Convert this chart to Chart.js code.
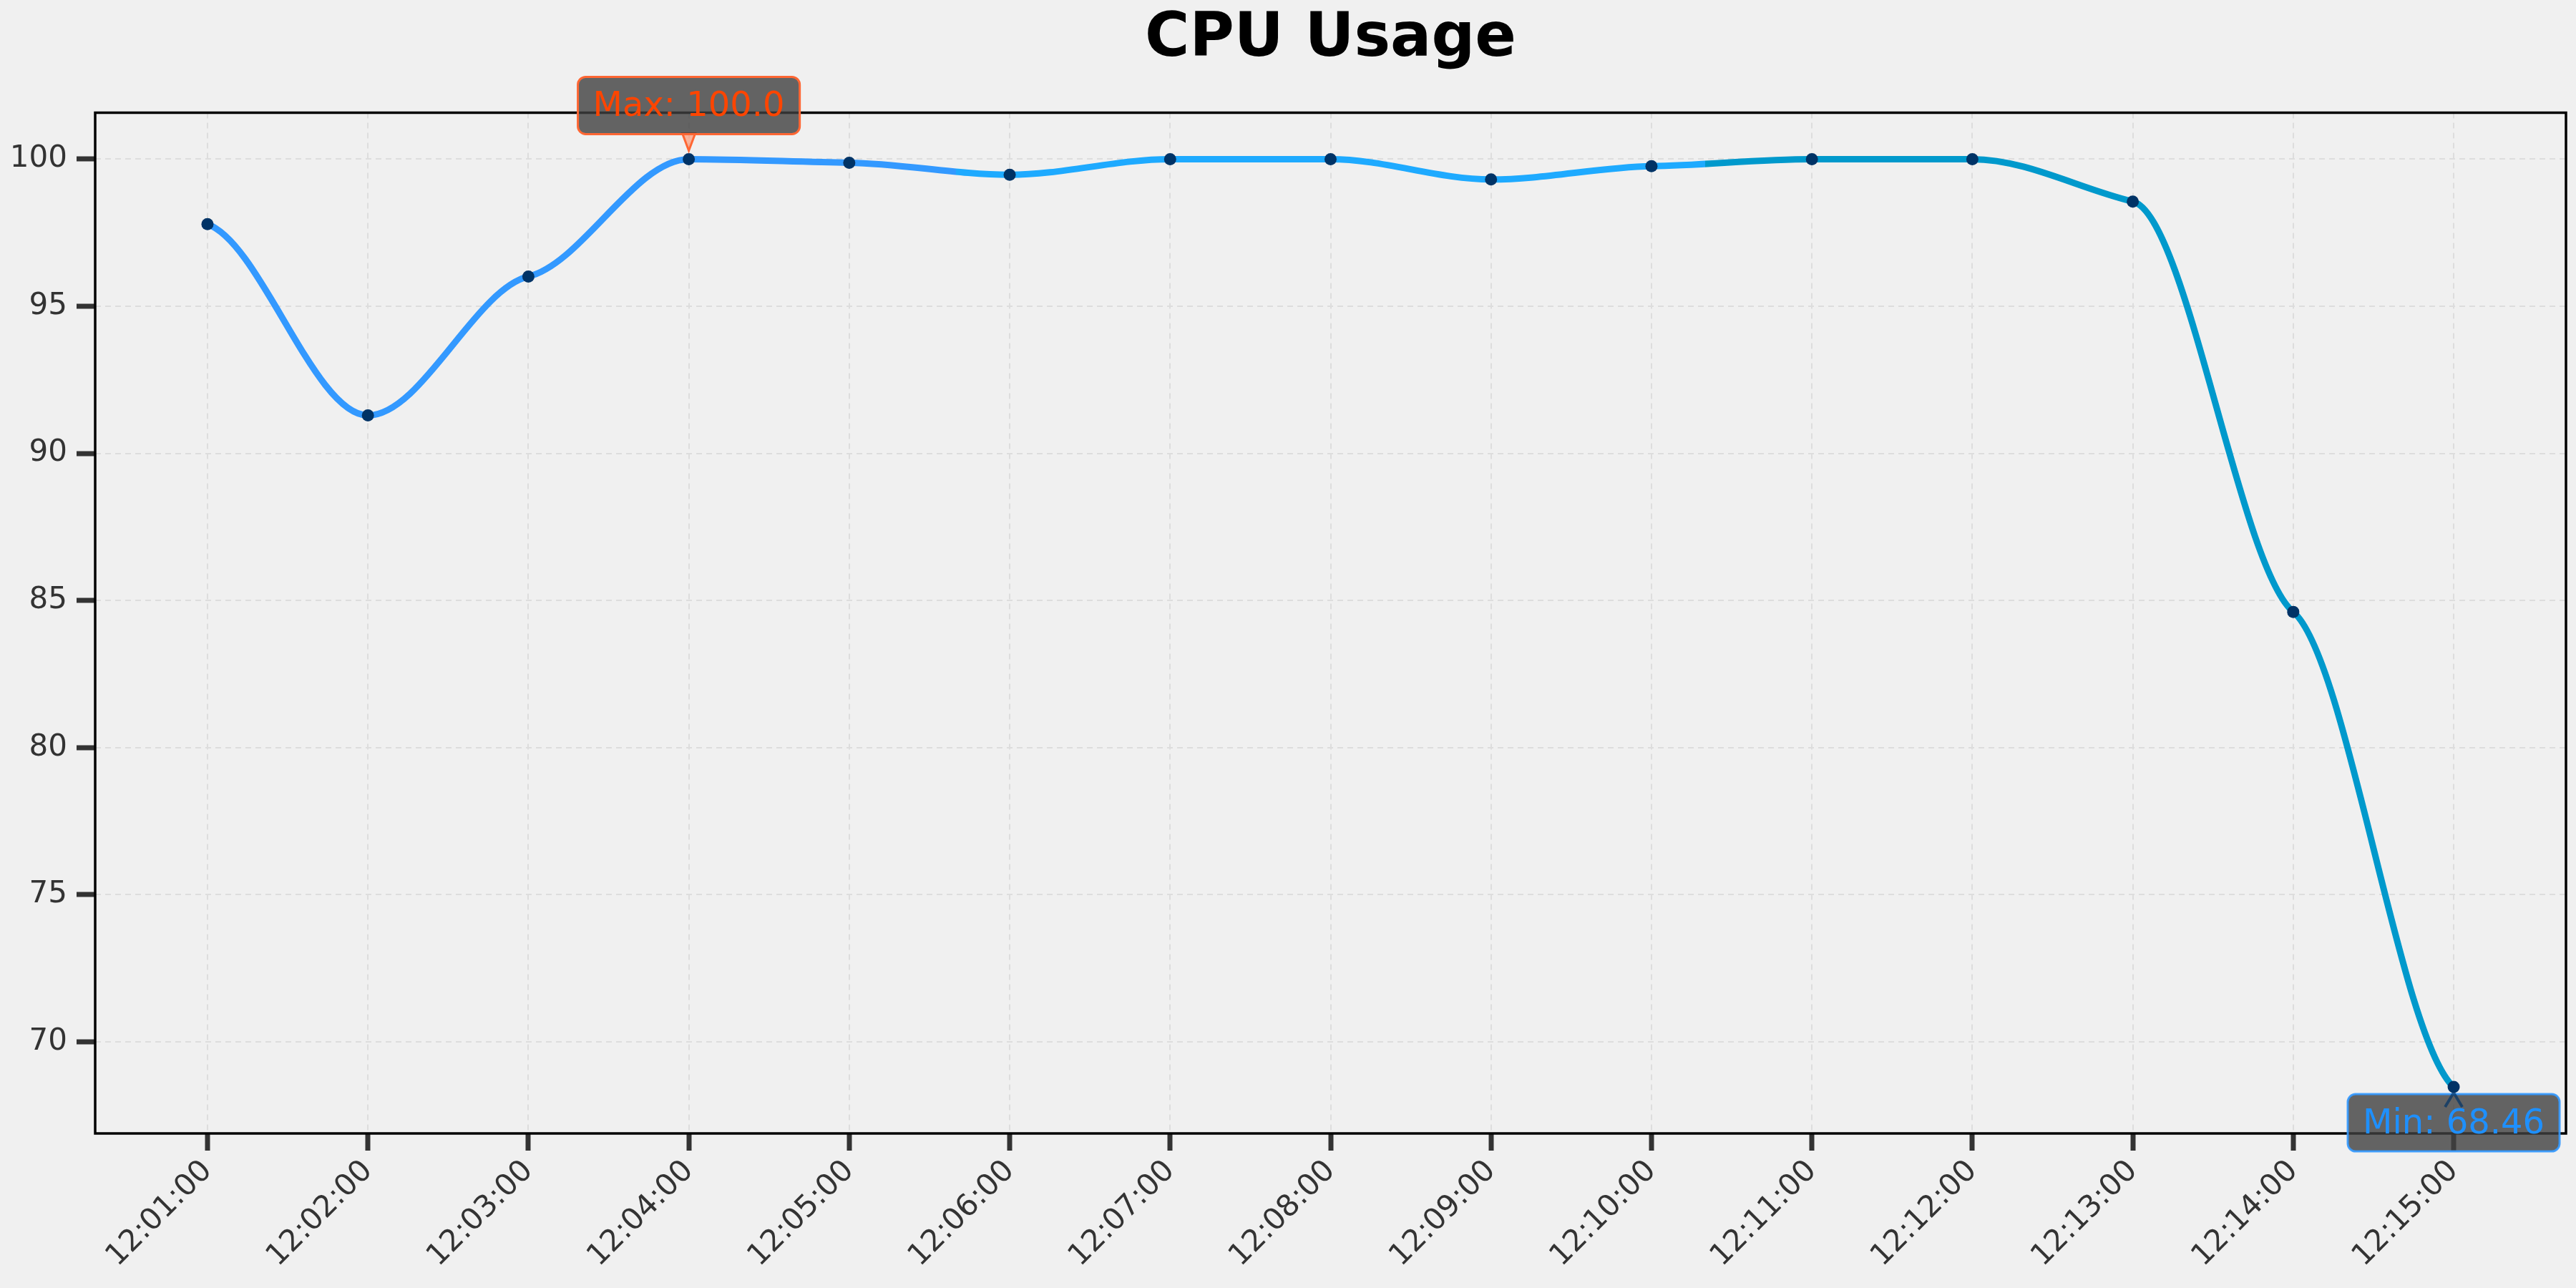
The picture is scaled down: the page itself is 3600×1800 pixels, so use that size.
<!DOCTYPE html>
<html>
<head>
<meta charset="utf-8">
<title>CPU Usage</title>
<script src="https://cdn.jsdelivr.net/npm/chart.js@4.4.1/dist/chart.umd.min.js"></script>
<style>
  body { margin: 0; background: #f0f0f0; }
  #cpuChart { display: block; }
</style>
</head>
<body>
<canvas id="cpuChart" width="3600" height="1800"></canvas>
<script>
const timeLabels = ['12:01:00','12:02:00','12:03:00','12:04:00','12:05:00','12:06:00','12:07:00',
    '12:08:00','12:09:00','12:10:00','12:11:00','12:12:00','12:13:00','12:14:00','12:15:00'];
const cpuValues = [97.79, 91.29, 96.01, 100.0, 99.88, 99.47, 100.0, 100.0, 99.31, 99.76, 100.0, 100.0, 98.56, 84.61, 68.46];
const yTicks = [70, 75, 80, 85, 90, 95, 100];
const lineColors = ['#3399ff', '#1eaaff', '#0099cc'];

const FONT = "'DejaVu Sans', sans-serif";
// how much of the monotone tangent is kept at each point (smaller = flatter at the points)
const TANGENT_KEEP = 0.3;

function lineGradient(context) {
    const chart = context.chart;
    const x = chart.scales.x;
    if (!chart.chartArea || !x) return lineColors[0];
    const x0 = x.getPixelForValue(0);
    const x1 = x.getPixelForValue(cpuValues.length - 1);
    const g = chart.ctx.createLinearGradient(x0, 0, x1, 0);
    g.addColorStop(0, lineColors[0]);
    g.addColorStop(1 / 3, lineColors[0]);
    g.addColorStop(1 / 3, lineColors[1]);
    g.addColorStop(2 / 3, lineColors[1]);
    g.addColorStop(2 / 3, lineColors[2]);
    g.addColorStop(1, lineColors[2]);
    return g;
}

function roundRect(ctx, x, y, w, h, r) {
    ctx.beginPath();
    ctx.moveTo(x + r, y);
    ctx.arcTo(x + w, y, x + w, y + h, r);
    ctx.arcTo(x + w, y + h, x, y + h, r);
    ctx.arcTo(x, y + h, x, y, r);
    ctx.arcTo(x, y, x + w, y, r);
    ctx.closePath();
}

function drawLabelBox(ctx, text, cx, top, textColor, borderColor) {
    ctx.save();
    ctx.font = '48px ' + FONT;
    const w = ctx.measureText(text).width + 42;
    const h = 80;
    roundRect(ctx, cx - w / 2, top, w, h, 11);
    ctx.fillStyle = 'rgba(64,64,64,0.8)';
    ctx.fill();
    ctx.lineWidth = 3;
    ctx.strokeStyle = borderColor;
    ctx.stroke();
    ctx.fillStyle = textColor;
    ctx.textAlign = 'center';
    ctx.textBaseline = 'alphabetic';
    ctx.fillText(text, cx, top + 55);
    ctx.restore();
}

const bgPlugin = {
    id: 'bg',
    beforeDraw(chart) {
        const ctx = chart.ctx;
        ctx.save();
        ctx.fillStyle = '#f0f0f0';
        ctx.fillRect(0, 0, chart.width, chart.height);
        ctx.restore();
    }
};

// flatten the monotone curve at each data point
const flattenPlugin = {
    id: 'flatten',
    beforeDatasetsDraw(chart) {
        chart.getSortedVisibleDatasetMetas().forEach(meta => {
            const line = meta.dataset;
            if (!line) return;
            line.updateControlPoints(chart.chartArea, 'x');
            line.points.forEach(p => {
                p.cp1y = p.y + (p.cp1y - p.y) * TANGENT_KEEP;
                p.cp2y = p.y + (p.cp2y - p.y) * TANGENT_KEEP;
            });
            line._path = undefined;
        });
    }
};

const framePlugin = {
    id: 'frame',
    afterDatasetsDraw(chart) {
        const {ctx, chartArea: a} = chart;
        ctx.save();
        ctx.strokeStyle = '#000';
        ctx.lineWidth = 3.5;
        ctx.strokeRect(a.left, a.top, a.right - a.left, a.bottom - a.top);
        ctx.restore();
    }
};

const extremaPlugin = {
    id: 'extrema',
    afterDraw(chart) {
        const {ctx, scales: {x, y}} = chart;
        const maxV = Math.max(...cpuValues);
        const minV = Math.min(...cpuValues);
        const iMax = cpuValues.indexOf(maxV);
        const iMin = cpuValues.indexOf(minV);

        // max label above the peak
        const px = x.getPixelForValue(iMax);
        const py = y.getPixelForValue(maxV);
        ctx.save();
        ctx.beginPath();
        ctx.moveTo(px - 9, py - 36);
        ctx.lineTo(px + 9, py - 36);
        ctx.lineTo(px, py - 12);
        ctx.closePath();
        ctx.fillStyle = 'rgba(255,140,100,0.6)';
        ctx.fill();
        ctx.strokeStyle = '#ff6633';
        ctx.lineWidth = 3;
        ctx.stroke();
        ctx.restore();
        drawLabelBox(ctx, 'Max: ' + maxV.toFixed(1), px, py - 115, '#ff4500', '#ff6633');

        // min label below the low point
        const qx = x.getPixelForValue(iMin);
        const qy = y.getPixelForValue(minV);
        drawLabelBox(ctx, 'Min: ' + minV.toFixed(2), qx, qy + 10, '#1e90ff', 'rgba(51,153,255,0.9)');
        ctx.save();
        ctx.beginPath();
        ctx.moveTo(qx - 12, qy + 28);
        ctx.lineTo(qx, qy + 8);
        ctx.lineTo(qx + 12, qy + 28);
        ctx.strokeStyle = 'rgba(0,51,102,0.7)';
        ctx.lineWidth = 4;
        ctx.stroke();
        ctx.restore();
    }
};

new Chart(document.getElementById('cpuChart'), {
    type: 'line',
    data: {
        datasets: [{
            label: 'CPU Usage',
            data: cpuValues.map((v, i) => ({ x: i, y: v })),
            borderColor: lineGradient,
            borderWidth: 9,
            cubicInterpolationMode: 'monotone',
            pointRadius: 8.5,
            pointBackgroundColor: '#003366',
            pointBorderWidth: 0,
            fill: false
        }]
    },
    options: {
        responsive: false,
        animation: false,
        layout: { padding: { left: 0, right: 14, top: 0, bottom: 0 } },
        plugins: {
            legend: { display: false },
            tooltip: { enabled: false },
            title: {
                display: true,
                text: 'CPU Usage',
                fullSize: false,
                color: '#000',
                font: { family: FONT, size: 85, weight: 'bold', lineHeight: 1.1 },
                padding: { top: 9, bottom: 55 }
            }
        },
        scales: {
            x: {
                type: 'linear',
                min: -0.7,
                max: 14.7,
                afterBuildTicks: s => { s.ticks = timeLabels.map((_, i) => ({ value: i })); },
                afterFit: s => { s.height = 216; },
                ticks: {
                    callback: v => timeLabels[v],
                    minRotation: 45,
                    maxRotation: 45,
                    autoSkip: false,
                    color: '#333',
                    padding: 4,
                    font: { family: FONT, size: 42 }
                },
                grid: {
                    color: '#dddddd',
                    lineWidth: 2,
                    tickLength: 24,
                    tickWidth: 7,
                    tickColor: '#333'
                },
                border: { display: false, dash: [8, 6] }
            },
            y: {
                type: 'linear',
                min: 66.88,
                max: 101.58,
                afterBuildTicks: s => { s.ticks = yTicks.map(v => ({ value: v })); },
                afterFit: s => { s.width = 133; },
                ticks: {
                    color: '#333',
                    padding: 13,
                    font: { family: FONT, size: 42 }
                },
                grid: {
                    color: '#dddddd',
                    lineWidth: 2,
                    tickLength: 26,
                    tickWidth: 7,
                    tickColor: '#333'
                },
                border: { display: false, dash: [8, 6] }
            }
        }
    },
    plugins: [bgPlugin, flattenPlugin, framePlugin, extremaPlugin]
});
</script>
</body>
</html>
